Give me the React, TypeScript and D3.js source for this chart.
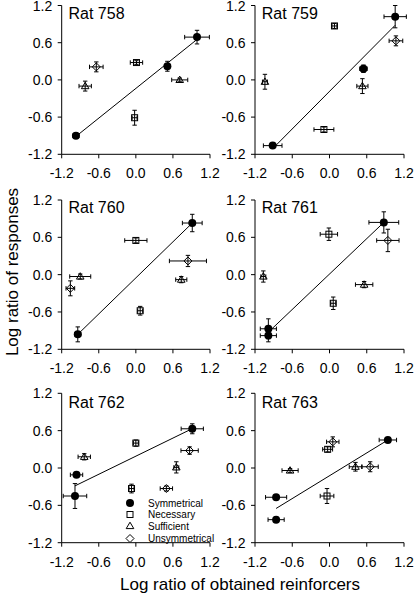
import React from 'react';
import * as d3 from 'd3';

// ---------- DATA ----------
const rats = ['758', '759', '760', '761', '762', '763'];
const tickValues = [-1.2, -0.6, 0.0, 0.6, 1.2];
const legendLabels = ['Symmetrical', 'Necessary', 'Sufficient', 'Unsymmetrical'];

// [rat, x, y, xErr, yErr]
type Pt = [string, number, number, number, number];

const symmetrical: Pt[] = [
  ['758', -0.97, -0.9, 0.05, 0.04],
  ['758', 0.51, 0.22, 0.04, 0.08],
  ['758', 0.99, 0.69, 0.2, 0.11],
  ['759', -0.915, -1.06, 0.15, 0.04],
  ['759', 0.547, 0.18, 0.06, 0.06],
  ['759', 1.058, 1.02, 0.18, 0.18],
  ['760', -0.94, -0.96, 0.05, 0.12],
  ['760', 0.913, 0.83, 0.16, 0.14],
  ['761', -0.985, -0.87, 0.13, 0.16],
  ['761', -0.985, -0.98, 0.13, 0.1],
  ['761', 0.875, 0.84, 0.24, 0.17],
  ['762', -0.96, -0.11, 0.1, 0.04],
  ['762', -0.985, -0.45, 0.19, 0.2],
  ['762', 0.913, 0.63, 0.18, 0.08],
  ['763', -0.86, -0.47, 0.17, 0.04],
  ['763', -0.86, -0.83, 0.13, 0.04],
  ['763', 0.94, 0.45, 0.14, 0.04],
];

const necessary: Pt[] = [
  ['758', 0.01, 0.28, 0.1, 0.03],
  ['758', -0.02, -0.61, 0.04, 0.12],
  ['759', 0.08, 0.87, 0.04, 0.04],
  ['759', -0.09, -0.8, 0.16, 0.04],
  ['760', 0.0, 0.55, 0.18, 0.04],
  ['760', 0.07, -0.58, 0.04, 0.07],
  ['761', -0.01, 0.65, 0.14, 0.1],
  ['761', 0.06, -0.46, 0.04, 0.1],
  ['762', 0.0, 0.4, 0.04, 0.05],
  ['762', -0.07, -0.33, 0.04, 0.07],
  ['763', -0.03, 0.3, 0.08, 0.04],
  ['763', -0.04, -0.45, 0.11, 0.12],
];

const sufficient: Pt[] = [
  ['758', -0.82, -0.1, 0.1, 0.08],
  ['758', 0.71, 0.0, 0.13, 0.03],
  ['759', -1.04, -0.03, 0.04, 0.12],
  ['759', 0.53, -0.1, 0.09, 0.12],
  ['760', -0.9, -0.03, 0.17, 0.04],
  ['760', 0.735, -0.08, 0.09, 0.05],
  ['761', -1.066, -0.03, 0.04, 0.09],
  ['761', 0.558, -0.16, 0.14, 0.05],
  ['762', -0.835, 0.18, 0.1, 0.05],
  ['762', 0.655, 0.01, 0.04, 0.09],
  ['763', -0.635, -0.04, 0.13, 0.03],
  ['763', 0.418, 0.02, 0.1, 0.07],
];

const unsymmetrical: Pt[] = [
  ['758', -0.64, 0.21, 0.11, 0.08],
  ['759', 1.07, 0.63, 0.11, 0.08],
  ['760', -1.06, -0.22, 0.07, 0.12],
  ['760', 0.843, 0.22, 0.3, 0.09],
  ['761', 0.94, 0.55, 0.18, 0.18],
  ['762', 0.494, -0.33, 0.1, 0.04],
  ['762', 0.87, 0.28, 0.14, 0.06],
  ['763', 0.053, 0.42, 0.1, 0.08],
  ['763', 0.655, 0.02, 0.13, 0.08],
];

// ---------- LAYOUT ----------
const W = 414;
const H = 594;
const FONT = '"Liberation Sans", Arial, Helvetica, sans-serif';
const colX = [
  [61.7, 210],
  [255, 404],
];
const rowY = [
  [5.5, 154.3],
  [200, 349.3],
  [393.3, 542.7],
];
const titleDy = [13, 13, 14.5];

type Shape = 'circle' | 'square' | 'triangle' | 'diamond';

function Marker({ shape, x, y }: { shape: Shape; x: number; y: number }) {
  const common = { stroke: '#000', strokeWidth: 1 };
  if (shape === 'circle') return <circle cx={x} cy={y} r={4} fill="#000" />;
  if (shape === 'square')
    return <rect x={x - 3} y={y - 3} width={6} height={6} fill="#fff" {...common} />;
  if (shape === 'triangle')
    return (
      <path
        d={`M${x},${y - 3.8}L${x + 3.8},${y + 2.6}L${x - 3.8},${y + 2.6}Z`}
        fill="#fff"
        {...common}
      />
    );
  return (
    <path
      d={`M${x},${y - 4}L${x + 4},${y}L${x},${y + 4}L${x - 4},${y}Z`}
      fill="#fff"
      {...common}
    />
  );
}

function ErrorBars({ x0, x1, y0, y1, cx, cy }: { x0: number; x1: number; y0: number; y1: number; cx: number; cy: number }) {
  const c = 2.2;
  const d = [
    `M${x0},${cy}H${x1}`,
    `M${x0},${cy - c}V${cy + c}`,
    `M${x1},${cy - c}V${cy + c}`,
    `M${cx},${y0}V${y1}`,
    `M${cx - c},${y0}H${cx + c}`,
    `M${cx - c},${y1}H${cx + c}`,
  ].join('');
  return <path d={d} stroke="#000" strokeWidth={1} fill="none" />;
}

function Panel({ rat, idx }: { rat: string; idx: number }) {
  const col = idx % 2;
  const row = Math.floor(idx / 2);
  const x = d3.scaleLinear().domain([-1.2, 1.2]).range(colX[col]);
  const y = d3.scaleLinear().domain([-1.2, 1.2]).range([rowY[row][1], rowY[row][0]]);
  const [xa, xb] = x.range();
  const yb = y(-1.2);
  const yt = y(1.2);

  const series: [Pt[], Shape][] = [
    [symmetrical, 'circle'],
    [necessary, 'square'],
    [sufficient, 'triangle'],
    [unsymmetrical, 'diamond'],
  ];

  // regression line for symmetrical condition
  const sym = symmetrical.filter((p) => p[0] === rat);
  const mx = d3.mean(sym, (p) => p[1])!;
  const my = d3.mean(sym, (p) => p[2])!;
  const sxy = d3.sum(sym, (p) => (p[1] - mx) * (p[2] - my));
  const sxx = d3.sum(sym, (p) => (p[1] - mx) ** 2);
  const slope = sxy / sxx;
  const [lx0, lx1] = d3.extent(sym, (p) => p[1]) as [number, number];
  const line = d3.line<number>().x((v) => x(v)).y((v) => y(my + slope * (v - mx)));

  return (
    <g>
      {/* axes */}
      <path d={`M${xa},${yt}V${yb}H${xb}`} stroke="#000" strokeWidth={1} fill="none" />
      {tickValues.map((t) => (
        <g key={'y' + t}>
          <line x1={xa - 4} x2={xa} y1={y(t)} y2={y(t)} stroke="#000" />
          <text x={xa - 9.5} y={y(t)} dy="0.36em" textAnchor="end" fontSize={14} fontFamily={FONT}>
            {t.toFixed(1)}
          </text>
        </g>
      ))}
      {tickValues.map((t) => (
        <g key={'x' + t}>
          <line x1={x(t)} x2={x(t)} y1={yb} y2={yb + 4} stroke="#000" />
          <text x={x(t)} y={yb + 24} textAnchor="middle" fontSize={14} fontFamily={FONT}>
            {t.toFixed(1)}
          </text>
        </g>
      ))}
      <text x={xa + 6.8} y={yt + titleDy[row]} fontSize={16} fontFamily={FONT}>
        {`Rat ${rat}`}
      </text>
      <path d={line([lx0, lx1]) || ''} stroke="#000" strokeWidth={1} fill="none" />
      {series.map(([arr, shape]) =>
        arr
          .filter((p) => p[0] === rat)
          .map((p, i) => {
            const cx = x(p[1]);
            const cy = y(p[2]);
            const eb = (
              <ErrorBars x0={x(p[1] - p[3])} x1={x(p[1] + p[3])} y0={y(p[2] + p[4])} y1={y(p[2] - p[4])} cx={cx} cy={cy} />
            );
            return (
              <g key={shape + i}>
                {shape === 'circle' ? eb : null}
                <Marker shape={shape} x={cx} y={cy} />
                {shape !== 'circle' ? eb : null}
              </g>
            );
          })
      )}
    </g>
  );
}

function Legend() {
  const shapes: Shape[] = ['circle', 'square', 'triangle', 'diamond'];
  const rowsY = [503, 514.5, 526, 538.5];
  const mx = 130;
  const tx = 148;
  return (
    <g>
      {legendLabels.map((lab, i) => (
        <g key={lab}>
          <Marker shape={shapes[i]} x={mx} y={rowsY[i]} />
          <text x={tx} y={rowsY[i] + 3.6} fontSize={10} fontFamily={FONT}>
            {lab}
          </text>
        </g>
      ))}
    </g>
  );
}

export default function App() {
  return (
    <svg width={W} height={H} style={{ position: 'absolute', left: 0, top: 0, background: '#fff' }}>
      <rect width={W} height={H} fill="#fff" />
      {rats.map((r, i) => (
        <Panel key={r} rat={r} idx={i} />
      ))}
      <Legend />
      <text transform="translate(18,272) rotate(-90)" textAnchor="middle" fontSize={17} fontFamily={FONT}>
        Log ratio of responses
      </text>
      <text x={240} y={590} textAnchor="middle" fontSize={17} fontFamily={FONT}>
        Log ratio of obtained reinforcers
      </text>
    </svg>
  );
}
